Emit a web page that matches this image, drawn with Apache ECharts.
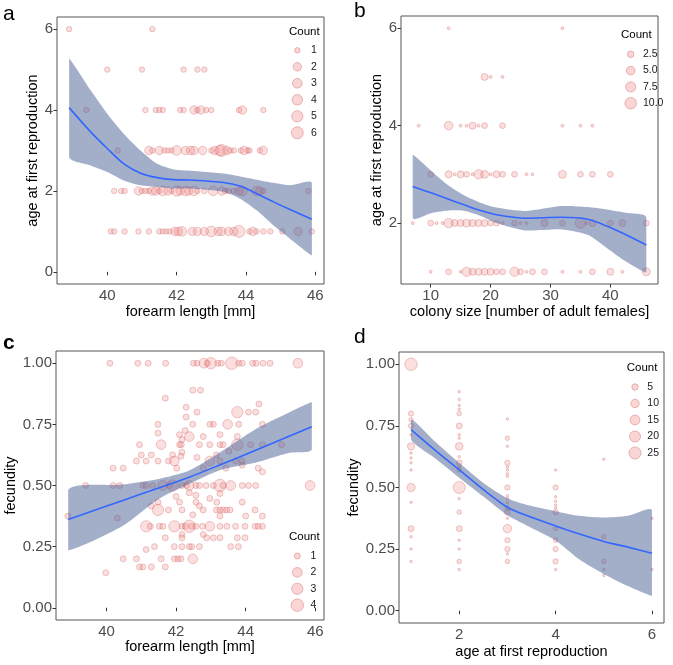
<!DOCTYPE html>
<html><head><meta charset="utf-8">
<script src="https://cdn.jsdelivr.net/npm/echarts@6/dist/echarts.min.js"></script>
<style>html,body{margin:0;padding:0;background:#fff}#c{width:673px;height:665px}</style>
</head><body><div id="c"></div>
<script>
// ---------- Panel a: forearm length vs age at first reproduction ([x, count] per age row)
const aAge6 = [[38.9,1],[41.3,1]];
const aAge5 = [[40.0,1],[41.0,1],[42.2,1],[42.6,1],[42.8,1]];
const aAge4 = [[39.4,1],[41.1,1],[41.4,1],[41.5,1],[41.6,1],[42.1,1],[42.2,1],[42.5,2],[42.6,1],[42.7,2],[42.85,1],[43.0,1],[43.8,1],[43.9,2],[44.5,1]];
const aAge3 = [[40.3,1],[41.2,2],[41.3,1],[41.5,2],[41.65,1],[41.75,1],[41.85,1],[42.0,3],[42.25,2],[42.4,2],[42.5,2],[42.75,2],[43.0,1],[43.1,2],[43.25,4],[43.3,6],[43.45,2],[43.55,1],[43.65,1],[43.85,1],[43.95,2],[44.05,1],[44.1,1],[44.4,1],[44.5,2]];
const aAge2 = [[40.2,1],[40.4,1],[40.5,1],[40.9,2],[41.0,1],[41.1,1],[41.2,1],[41.3,2],[41.4,2],[41.5,1],[41.6,3],[41.75,2],[41.85,1],[42.0,4],[42.1,2],[42.25,3],[42.35,2],[42.5,3],[42.6,1],[42.8,1],[43.05,3],[43.3,2],[43.4,1],[43.5,1],[43.65,1],[43.8,2],[43.9,3],[44.3,3],[44.4,2],[44.5,1],[45.8,1]];
const aAge1 = [[40.1,1],[40.2,1],[40.5,1],[40.9,1],[41.2,1],[41.5,1],[41.6,1],[41.7,1],[41.8,1],[41.95,2],[42.05,2],[42.15,3],[42.45,2],[42.6,2],[42.8,2],[43.0,4],[43.2,2],[43.3,2],[43.5,2],[43.65,2],[43.8,6],[44.1,1],[44.2,2],[44.3,1],[44.5,1],[44.7,1],[45.05,1],[45.5,2],[45.9,1]];
const aFitX = [38.9,39.52,40,40.48,40.96,41.44,41.92,42.39,43.35,43.83,44.31,44.79,45.27,45.9];
const aFit  = [4.06,3.46,3.05,2.67,2.44,2.33,2.28,2.27,2.21,2.12,1.93,1.73,1.54,1.3];
const aLo   = [2.84,2.63,2.47,2.26,2.14,2.1,2.06,2.06,1.98,1.81,1.52,1.15,0.82,0.41];
const aHi   = [5.27,4.49,3.91,3.41,3.0,2.67,2.53,2.5,2.43,2.36,2.28,2.2,2.14,2.2];
const aXTicks = [40,42,44,46];
const aYTicks = [0,2,4,6];
const aLegend = [1,2,3,4,5,6];

// ---------- Panel b: colony size vs age at first reproduction ([colony size, count] per age row)
const bAge6 = [[13,1],[32,1]];
const bAge5 = [[19,3],[20,1],[22,1]];
const bAge4 = [[8,1],[13,5],[15,1],[16,1],[17,3],[18,1],[19,2],[22,2],[32,1],[35,1],[37,1]];
const bAge3 = [[10,2],[13,3],[14,1],[15,3],[16,2],[17,1],[18,6],[19,4],[20,1],[21,3],[22,2],[24,2],[26,1],[27,1],[32,4],[35,2],[37,2],[40,2]];
const bAge2 = [[7,1],[10,2],[11,1],[12,1],[13,6],[14,3],[15,3],[16,4],[17,3],[18,3],[19,3],[20,2],[21,2],[22,1],[24,2],[25,1],[26,1],[29,3],[32,2],[35,8],[36,1],[37,3],[40,2],[42,3],[46,2]];
const bAge1 = [[10,1],[13,2],[15,1],[16,6],[17,3],[18,3],[19,3],[20,3],[21,2],[22,2],[24,6],[25,2],[26,1],[27,2],[29,2],[32,1],[35,1],[37,2],[40,3],[42,1],[46,4]];
const bFitX = [7,10.3,13,15.7,18.3,21,25.8,31.9,36.2,39.4,42.6,46];
const bFit  = [2.75,2.61,2.49,2.37,2.26,2.17,2.1,2.12,2.08,1.94,1.76,1.55];
const bLo   = [2.1,2.21,2.26,2.25,2.15,2.0,1.85,1.87,1.76,1.49,1.21,0.98];
const bHi   = [3.4,3.05,2.77,2.56,2.42,2.32,2.25,2.35,2.33,2.28,2.21,2.12];
const bXTicks = [10,20,30,40];
const bYTicks = [2,4,6];
const bLegend = [2.5,5,7.5,10];
const bLegendLabels = ['2.5','5.0','7.5','10.0'];

// ---------- Panel c: forearm length vs fecundity ([x, fecundity, count])
const cTop = [[40.1,1,1],[40.9,1,1],[41.2,1,1],[41.7,1,1],[42.5,1,1],[42.6,1,1],[42.8,1,2],[42.9,1,1],[43.0,1,3],[43.2,1,1],[43.3,1,1],[43.6,1,4],[43.8,1,1],[43.9,1,1],[44.2,1,1],[44.3,1,1],[44.5,1,1],[44.7,1,1],[45.5,1,2]];
const cHigh = [[42.48,0.89,1],[42.7,0.89,1],[41.69,0.857,1],[42.29,0.82,1],[42.6,0.80,1],[43.76,0.80,3],[44.08,0.80,1],[44.29,0.80,1],[44.38,0.833,1],[42.29,0.78,1],[41.48,0.75,1],[42.48,0.75,1],[42.97,0.75,1],[43.07,0.75,1],[43.48,0.75,2],[43.8,0.75,1],[44.48,0.75,1],[42.26,0.725,1],[41.48,0.714,1],[42.1,0.708,1],[42.38,0.70,2],[42.78,0.70,1],[43.26,0.708,1],[43.76,0.70,1],[42.17,0.688,1],[40.95,0.667,1],[41.57,0.667,2],[42.1,0.667,1],[42.15,0.667,1],[42.67,0.667,1],[42.97,0.667,1],[43.26,0.667,1],[43.35,0.667,1],[43.76,0.667,3],[44.14,0.667,1],[44.48,0.667,1],[45.03,0.667,1],[41.0,0.625,1],[41.29,0.625,1],[41.9,0.625,1],[42.17,0.636,1],[42.6,0.615,1],[43.16,0.625,1],[43.52,0.64,1],[40.19,0.571,1],[40.48,0.571,1],[40.86,0.60,1],[41.14,0.60,1],[41.48,0.60,1],[41.78,0.60,1],[41.95,0.60,2],[42.14,0.62,1],[42.02,0.571,1],[42.78,0.571,1],[42.97,0.60,2],[43.26,0.60,1],[43.43,0.571,1],[43.71,0.60,1],[43.9,0.60,1],[43.9,0.583,1],[44.36,0.571,1],[44.48,0.556,1]];
const cMid = [[39.4,0.5,1],[40.19,0.5,1],[40.38,0.5,1],[41.05,0.5,1],[41.14,0.5,1],[41.33,0.5,1],[41.62,0.5,2],[41.81,0.5,1],[41.9,0.5,3],[42.17,0.5,1],[42.3,0.5,1],[42.38,0.5,2],[42.57,0.5,1],[42.67,0.5,1],[42.86,0.5,1],[43.07,0.5,1],[43.26,0.5,4],[43.35,0.5,1],[43.57,0.5,2],[43.9,0.5,1],[44.08,0.5,1],[44.29,0.5,1],[45.85,0.5,2]];
const cLow = [[40.31,0.367,1],[38.89,0.375,1],[41.48,0.432,1],[41.29,0.416,1],[41.48,0.40,3],[41.78,0.40,1],[42.17,0.40,1],[42.0,0.455,1],[42.1,0.432,1],[42.38,0.47,1],[42.57,0.46,1],[42.57,0.432,1],[42.67,0.416,1],[42.78,0.40,1],[42.48,0.38,1],[42.97,0.447,1],[43.17,0.432,1],[43.26,0.467,1],[43.16,0.40,1],[43.26,0.40,1],[43.35,0.40,1],[43.45,0.40,1],[43.55,0.40,1],[43.26,0.375,1],[43.9,0.432,1],[44.27,0.40,1],[44.0,0.375,1],[44.48,0.375,1]];
const cThird = [[41.14,0.333,3],[41.26,0.333,1],[41.52,0.333,1],[41.62,0.333,1],[41.95,0.333,3],[42.17,0.333,1],[42.27,0.333,1],[42.38,0.333,4],[42.45,0.333,1],[42.57,0.333,1],[42.76,0.333,1],[42.97,0.333,2],[43.26,0.333,1],[43.46,0.333,1],[43.71,0.333,1],[43.98,0.333,1],[44.27,0.333,1],[44.36,0.333,1],[44.48,0.333,1]];
const cBottom = [[42.17,0.30,1],[42.17,0.286,1],[42.78,0.30,1],[42.88,0.286,1],[43.07,0.286,1],[43.26,0.286,1],[43.76,0.286,1],[43.98,0.286,1],[41.69,0.286,1],[41.14,0.238,1],[41.38,0.25,1],[41.95,0.25,1],[42.17,0.25,1],[42.38,0.25,1],[42.45,0.25,1],[42.67,0.25,1],[43.57,0.25,1],[43.79,0.25,1],[40.48,0.20,1],[40.86,0.20,1],[41.57,0.20,1],[41.95,0.20,1],[42.05,0.20,1],[42.14,0.20,1],[42.48,0.20,2],[40.95,0.167,1],[41.05,0.167,1],[41.29,0.167,1],[41.69,0.167,1],[39.98,0.143,1]];
const cFitX = [38.9,40.45,41.5,42.36,43.31,44.27,45.23,45.9];
const cFit  = [0.361,0.438,0.49,0.533,0.587,0.643,0.70,0.74];
const cLo   = [0.235,0.333,0.445,0.505,0.565,0.593,0.633,0.647];
const cHi   = [0.483,0.504,0.527,0.56,0.64,0.729,0.797,0.84];
const cXTicks = [40,42,44,46];
const cYTicks = [0,0.25,0.5,0.75,1];
const cLegend = [1,2,3,4];

// ---------- Panel d: age at first reproduction vs fecundity ([fecundity, count] per age column)
const dAge1 = [[1.0,27],[0.8,3],[0.775,2],[0.75,3],[0.714,1],[0.667,7],[0.64,1],[0.62,1],[0.6,1],[0.571,1],[0.5,10],[0.44,1],[0.333,4],[0.3,1],[0.25,1],[0.2,1]];
const dAge2 = [[0.889,1],[0.857,1],[0.833,1],[0.818,1],[0.8,2],[0.75,4],[0.714,1],[0.7,1],[0.667,8],[0.625,1],[0.6,4],[0.583,1],[0.571,2],[0.5,25],[0.455,1],[0.4,2],[0.333,4],[0.286,1],[0.25,1],[0.2,2],[0.167,1]];
const dAge3 = [[0.778,1],[0.7,2],[0.667,1],[0.6,3],[0.583,1],[0.571,1],[0.556,1],[0.545,1],[0.5,3],[0.467,1],[0.455,1],[0.438,1],[0.417,2],[0.4,4],[0.375,1],[0.333,10],[0.286,3],[0.25,3],[0.231,1],[0.2,2]];
const dAge4 = [[0.571,1],[0.5,3],[0.462,1],[0.444,1],[0.429,1],[0.417,1],[0.4,3],[0.333,2],[0.286,2],[0.25,3],[0.2,3],[0.167,1]];
const dAge5 = [[0.615,1],[0.3,2],[0.2,2],[0.167,1],[0.143,1]];
const dAge6 = [[0.375,1],[0.167,1]];
const dFitX = [1,1.49,2,2.51,3,3.39,4,4.48,5,5.5,6];
const dFit  = [0.735,0.653,0.572,0.49,0.42,0.387,0.344,0.312,0.281,0.258,0.233];
const dLo   = [0.694,0.62,0.54,0.462,0.387,0.347,0.285,0.21,0.149,0.10,0.06];
const dHi   = [0.776,0.688,0.60,0.517,0.456,0.43,0.404,0.385,0.378,0.385,0.408];
const dXTicks = [2,4,6];
const dYTicks = [0,0.25,0.5,0.75,1];
const dLegend = [5,10,15,20,25];

// ---------- styling
const FONT = 'Liberation Sans, Arial, sans-serif';
const PT_FILL = 'rgba(240,128,128,0.33)';
const PT_EDGE = 'rgba(205,92,92,0.5)';
const BAND = 'rgba(72,94,148,0.5)';
const LINE = '#3366FF';

function areaSize(cmin, cmax, smin, smax) {
  return c => smin + (smax - smin) * Math.sqrt(Math.max(0, (c - cmin) / (cmax - cmin)));
}
const sizeA = areaSize(1, 6, 5.5, 12);
const sizeB = areaSize(1, 10, 3, 11.5);
const sizeC = areaSize(1, 4, 6, 12.5);
const sizeD = areaSize(1, 27, 2.5, 12.5);

const grids = [
  {left:57, top:17, width:267, height:267},
  {left:401, top:16, width:257, height:268},
  {left:56, top:351, width:268, height:269},
  {left:399, top:352, width:265, height:271}
].map(g => Object.assign({show:true, borderColor:'#555', borderWidth:1, backgroundColor:'#fff'}, g));

function xAx(i, min, max, ticks, name, gap) {
  return {type:'value', gridIndex:i, min, max, name, nameLocation:'middle', nameGap:gap,
    nameTextStyle:{fontFamily:FONT, fontSize:14.5, color:'#000'},
    axisLine:{show:false}, splitLine:{show:false},
    axisTick:{show:true, length:3.5, lineStyle:{color:'#333'}, customValues:ticks},
    axisLabel:{fontFamily:FONT, fontSize:15, color:'#4d4d4d', margin:4, customValues:ticks}};
}
function yAx(i, min, max, ticks, name, gap, fmt) {
  return {type:'value', gridIndex:i, min, max, name, nameLocation:'middle', nameGap:gap,
    nameTextStyle:{fontFamily:FONT, fontSize:14.5, color:'#000'},
    axisLine:{show:false}, splitLine:{show:false},
    axisTick:{show:true, length:3.5, lineStyle:{color:'#333'}, customValues:ticks},
    axisLabel:{fontFamily:FONT, fontSize:15, color:'#4d4d4d', margin:4, customValues:ticks,
      formatter: fmt || (v => String(v))}};
}

function scatter(i, data, sizeFn) {
  return {type:'scatter', xAxisIndex:i, yAxisIndex:i, data, z:2, silent:true,
    symbolSize: v => sizeFn(v[2]),
    itemStyle:{color:PT_FILL, borderColor:PT_EDGE, borderWidth:0.8}};
}
function band(i, xs, lo, hi) {
  return {type:'custom', xAxisIndex:i, yAxisIndex:i, z:3, silent:true,
    data: xs.map((x, k) => [x, lo[k], hi[k]]),
    renderItem: function (params, api) {
      if (params.dataIndex !== 0) return null;
      const up = xs.map((x, k) => api.coord([x, hi[k]]));
      const dn = xs.map((x, k) => api.coord([x, lo[k]])).reverse();
      const pts = up.concat(dn);
      const xsP = pts.map(p => p[0]), ysP = pts.map(p => p[1]);
      const box = [[Math.min(...xsP), Math.min(...ysP)], [Math.max(...xsP), Math.max(...ysP)]];
      return {type:'polygon', shape:{points: pts, smooth:0.25, smoothConstraint: box},
        style:{fill:BAND, stroke:null}};
    }};
}
function fitLine(i, xs, ys) {
  return {type:'line', xAxisIndex:i, yAxisIndex:i, z:4, silent:true, smooth:0.3, showSymbol:false,
    data: xs.map((x, k) => [x, ys[k]]), lineStyle:{color:LINE, width:1.6}};
}
const rowsXY = (rows, yVal) => rows.map(r => [r[0], yVal, r[1]]);
const colsXY = (cols, xVal) => cols.map(r => [xVal, r[0], r[1]]);

const aData = [].concat(rowsXY(aAge1,1), rowsXY(aAge2,2), rowsXY(aAge3,3), rowsXY(aAge4,4), rowsXY(aAge5,5), rowsXY(aAge6,6));
const bData = [].concat(rowsXY(bAge1,1), rowsXY(bAge2,2), rowsXY(bAge3,3), rowsXY(bAge4,4), rowsXY(bAge5,5), rowsXY(bAge6,6));
const cData = [].concat(cTop, cHigh, cMid, cLow, cThird, cBottom);
const dData = [].concat(colsXY(dAge1,1), colsXY(dAge2,2), colsXY(dAge3,3), colsXY(dAge4,4), colsXY(dAge5,5), colsXY(dAge6,6));

// legend drawing (layout positions only; sizes from the same size scales)
function legend(titleX, titleY, cx, lx, y0, step, breaks, labels, sizeFn) {
  const els = [{type:'text', left:titleX, top:titleY - 7, style:{text:'Count', font:'11.5px ' + FONT, fill:'#000'}}];
  breaks.forEach((b, k) => {
    const y = y0 + k * step;
    els.push({type:'circle', shape:{cx, cy:y, r:sizeFn(b)/2}, style:{fill:PT_FILL, stroke:PT_EDGE, lineWidth:0.8}});
    els.push({type:'text', x:lx, y:y, style:{text:labels[k], font:'10.5px ' + FONT, fill:'#1a1a1a', verticalAlign:'middle'}});
  });
  return els;
}
function letter(t, x, y, bold) {
  return {type:'text', x, y, style:{text:t, font:(bold ? 'bold ' : '') + '21px ' + FONT, fill:'#000', verticalAlign:'top'}};
}

const fmt2 = v => v.toFixed(2);
const option = {
  animation:false,
  backgroundColor:'#fff',
  grid: grids,
  xAxis: [
    xAx(0, 38.55, 46.25, aXTicks, 'forearm length [mm]', 20),
    xAx(1, 5.05, 47.95, bXTicks, 'colony size [number of adult females]', 20),
    xAx(2, 38.55, 46.25, cXTicks, 'forearm length [mm]', 19),
    xAx(3, 0.75, 6.25, dXTicks, 'age at first reproduction', 21)
  ],
  yAxis: [
    yAx(0, -0.3, 6.3, aYTicks, 'age at first reproduction', 12),
    yAx(1, 0.75, 6.25, bYTicks, 'age at first reproduction', 14),
    yAx(2, -0.05, 1.05, cYTicks, 'fecundity', 35, fmt2),
    yAx(3, -0.05, 1.05, dYTicks, 'fecundity', 36, fmt2)
  ],
  series: [
    scatter(0, aData, sizeA), band(0, aFitX, aLo, aHi), fitLine(0, aFitX, aFit),
    scatter(1, bData, sizeB), band(1, bFitX, bLo, bHi), fitLine(1, bFitX, bFit),
    scatter(2, cData, sizeC), band(2, cFitX, cLo, cHi), fitLine(2, cFitX, cFit),
    scatter(3, dData, sizeD), band(3, dFitX, dLo, dHi), fitLine(3, dFitX, dFit)
  ],
  graphic: [].concat(
    legend(289, 33, 297.3, 311, 50.3, 16.5, aLegend, aLegend.map(String), sizeA),
    legend(621, 36, 630.7, 643, 54.3, 16.3, bLegend, bLegendLabels, sizeB),
    legend(289, 538.3, 297.3, 310.5, 556, 16.4, cLegend, cLegend.map(String), sizeC),
    legend(626.7, 369.3, 635, 647.3, 387, 16.5, dLegend, dLegend.map(String), sizeD),
    [letter('a', 3, 4, false), letter('b', 354, 1, false), letter('c', 3, 333, true), letter('d', 354, 327, false)]
  )
};
const chart = echarts.init(document.getElementById('c'), null, {renderer:'canvas'});
chart.setOption(option);
</script></body></html>
